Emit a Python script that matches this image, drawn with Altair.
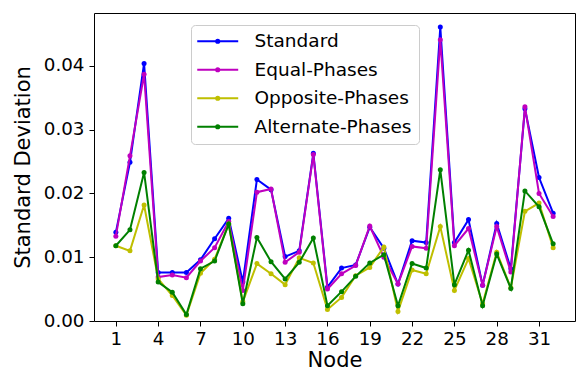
import altair as alt
import pandas as pd

nodes = [1, 2, 3, 4, 5, 6, 7, 8, 9, 10, 11, 12, 13, 14, 15, 16,
         17, 18, 19, 20, 21, 22, 23, 24, 25, 26, 27, 28, 29, 30, 31, 32]

standard = [0.0139, 0.0249, 0.0404, 0.0076, 0.0076, 0.0076, 0.0096, 0.0129,
            0.0161, 0.0061, 0.0222, 0.0206, 0.0101, 0.0110, 0.0263, 0.0053,
            0.0083, 0.0088, 0.0147, 0.0114, 0.0058, 0.0126, 0.0123, 0.0461,
            0.0123, 0.0159, 0.0056, 0.0153, 0.0082, 0.0333, 0.0225, 0.0169]

equal_phases = [0.0133, 0.0259, 0.0387, 0.0069, 0.0072, 0.0068, 0.0094, 0.0115,
                0.0156, 0.0048, 0.0202, 0.0207, 0.0092, 0.0108, 0.0261, 0.0050,
                0.0074, 0.0087, 0.0149, 0.0100, 0.0058, 0.0117, 0.0114, 0.0441,
                0.0118, 0.0145, 0.0056, 0.0148, 0.0077, 0.0336, 0.0200, 0.0164]

opposite_phases = [0.0118, 0.0110, 0.0182, 0.0066, 0.0040, 0.0009, 0.0075, 0.0097,
                   0.0152, 0.0030, 0.0090, 0.0074, 0.0057, 0.0099, 0.0091, 0.0018,
                   0.0037, 0.0071, 0.0084, 0.0116, 0.0015, 0.0080, 0.0074, 0.0148,
                   0.0048, 0.0098, 0.0027, 0.0108, 0.0052, 0.0172, 0.0185, 0.0115]

alternate_phases = [0.0118, 0.0143, 0.0233, 0.0061, 0.0045, 0.0010, 0.0082, 0.0094,
                    0.0152, 0.0027, 0.0131, 0.0093, 0.0066, 0.0092, 0.0130, 0.0024,
                    0.0046, 0.0070, 0.0091, 0.0104, 0.0024, 0.0090, 0.0083, 0.0237,
                    0.0057, 0.0111, 0.0024, 0.0105, 0.0051, 0.0204, 0.0179, 0.0121]

series_names = ["Standard", "Equal-Phases", "Opposite-Phases", "Alternate-Phases"]
series_colors = ["#0000ff", "#bf00bf", "#bfbf00", "#008000"]
series_values = [standard, equal_phases, opposite_phases, alternate_phases]

x_ticks = [1, 4, 7, 10, 13, 16, 19, 22, 25, 28, 31]
y_ticks = [0.0, 0.01, 0.02, 0.03, 0.04]

rows = []
for name, vals in zip(series_names, series_values):
    for n, v in zip(nodes, vals):
        rows.append({"Node": n, "value": v, "series": name})
df = pd.DataFrame(rows)

FONT = "DejaVu Sans"

# line with a dot, in units of half the symbol width (16px -> 8px per unit)
legend_symbol = ("M-1.25,0L3.87,0M1.11,0A0.2,0.2,0,1,1,1.51,0"
                 "A0.2,0.2,0,1,1,1.11,0")

x_enc = alt.X("Node:Q",
              scale=alt.Scale(domain=[-0.55, 33.55], nice=False, zero=False),
              axis=alt.Axis(values=x_ticks, title="Node", format="d"))
y_enc = alt.Y("value:Q",
              scale=alt.Scale(domain=[0, 0.0483], nice=False, zero=True),
              axis=alt.Axis(values=y_ticks, title="Standard Deviation", format=".2f"))
color_enc = alt.Color(
    "series:N",
    scale=alt.Scale(domain=series_names, range=series_colors),
    legend=alt.Legend(
        title=None,
        orient="none",
        legendX=97,
        legendY=12,
        symbolType=legend_symbol,
        symbolSize=256,
        symbolStrokeWidth=2,
        labelFontSize=18.5,
        labelFont=FONT,
        labelColor="black",
        labelOffset=38,
        rowPadding=9.5,
        padding=7,
        fillColor="white",
        strokeColor="#cccccc",
        cornerRadius=4,
    ),
)

layers = []
for name in series_names:
    layers.append(
        alt.Chart(df)
        .transform_filter(alt.datum.series == name)
        .mark_line(strokeWidth=2, point=alt.OverlayMarkDef(filled=True, size=25, opacity=1))
        .encode(x=x_enc, y=y_enc, color=color_enc)
    )

chart = (
    alt.layer(*layers)
    .properties(
        width=481,
        height=308,
        autosize=alt.AutoSizeParams(type="none"),
        padding={"left": 94, "top": 13, "right": 1, "bottom": 50},
    )
    .configure_view(stroke="black", strokeWidth=1)
    .configure_axis(
        grid=False,
        domain=False,
        ticks=True,
        tickColor="black",
        tickSize=5,
        tickWidth=1,
        labelFont=FONT,
        labelFontSize=18.3,
        labelColor="black",
        labelPadding=5,
        titleFont=FONT,
        titleFontSize=21,
        titleFontWeight="normal",
        titleColor="black",
    )
    .configure_axisX(labelPadding=4, titlePadding=2)
    .configure_axisY(titlePadding=10)
)

chart.save("out.html", embed_options={"renderer": "svg", "actions": False})
